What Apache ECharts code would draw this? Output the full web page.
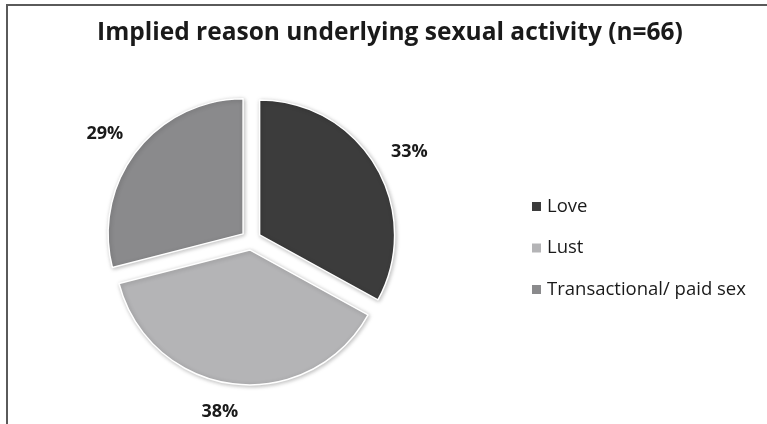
<!DOCTYPE html>
<html>
<head>
<meta charset="utf-8">
<script src="https://cdn.jsdelivr.net/npm/echarts@6/dist/echarts.min.js"></script>
<style>
  html, body { margin: 0; padding: 0; background: #fff; }
  #chart { width: 767px; height: 424px; }
</style>
</head>
<body>
<div id="chart"></div>
<script>
// values (percent)
const categories = ['Love', 'Lust', 'Transactional/ paid sex'];
const percents = [33, 38, 29];
const colors = ['#3c3c3c', '#b4b4b6', '#8a8a8c'];

const chart = echarts.init(document.getElementById('chart'), null, {renderer: 'canvas'});

const option = {
    animation: false,
    title: {
        text: 'Implied reason underlying sexual activity (n=66)',
        left: 385,
        textAlign: 'center',
        top: 16,
        textStyle: {
            fontFamily: 'Open Sans',
            fontSize: 24.5,
            fontWeight: 'bold',
            color: '#1a1a1a'
        }
    },
    legend: {
        orient: 'vertical',
        left: 525,
        top: 192,
        itemWidth: 11,
        itemHeight: 11,
        itemGap: 22.5,
        icon: 'rect',
        textStyle: {
            fontFamily: 'Open Sans',
            fontSize: 18.5,
            color: '#1a1a1a'
        },
        data: categories
    },
    graphic: [
        // frame: only the top and left edges show in the picture
        {type: 'line', shape: {x1: 6, y1: 5, x2: 767, y2: 5}, style: {stroke: '#5a5a5a', lineWidth: 2}},
        {type: 'line', shape: {x1: 7, y1: 4, x2: 7, y2: 424}, style: {stroke: '#5a5a5a', lineWidth: 2}}
    ],
    series: [
        {
            type: 'pie',
            center: [251, 240],
            radius: 135,
            startAngle: 90,
            clockwise: true,
            selectedMode: 'multiple',
            selectedOffset: 10,
            avoidLabelOverlap: false,
            label: {
                show: true,
                position: 'outside',
                formatter: '{c}%',
                fontFamily: 'Open Sans',
                fontSize: 18,
                fontWeight: 'bold',
                color: '#1a1a1a',
                distanceToLabelLine: 0
            },
            labelLine: {show: false, length: 28, length2: -9},
            itemStyle: {
                borderColor: '#ffffff',
                borderWidth: 1.5,
                shadowBlur: 4,
                shadowColor: 'rgba(0,0,0,0.25)',
                shadowOffsetX: 1,
                shadowOffsetY: 1
            },
            emphasis: {disabled: true},
            data: categories.map((name, i) => ({
                name: name,
                value: percents[i],
                selected: true,
                itemStyle: {color: colors[i]}
            }))
        }
    ]
};

chart.setOption(option);
</script>
</body>
</html>
